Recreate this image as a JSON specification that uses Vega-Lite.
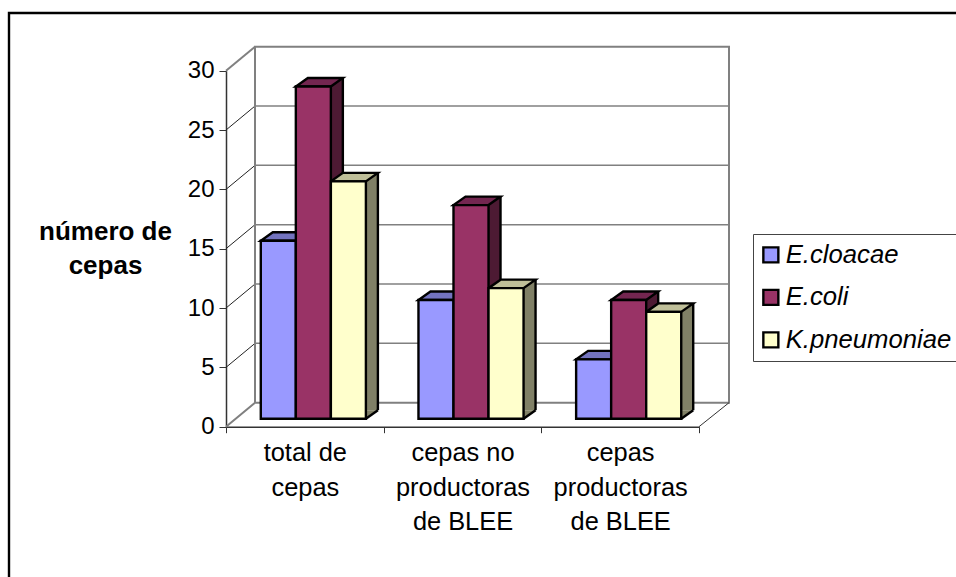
{
  "$schema": "https://vega.github.io/schema/vega-lite/v6.json",
  "autosize": "none",
  "width": 950,
  "height": 568,
  "padding": {"left": 9, "top": 13, "right": 0, "bottom": 0},
  "background": "white",
  "config": {
    "view": {"stroke": "black", "strokeWidth": 2.4, "fill": "white"},
    "font": "Liberation Sans"
  },
  "datasets": {
    "cepas": [
      {"categoria": "total de cepas", "especie": "E.cloacae", "valor": 15},
      {"categoria": "total de cepas", "especie": "E.coli", "valor": 28},
      {"categoria": "total de cepas", "especie": "K.pneumoniae", "valor": 20},
      {"categoria": "cepas no productoras de BLEE", "especie": "E.cloacae", "valor": 10},
      {"categoria": "cepas no productoras de BLEE", "especie": "E.coli", "valor": 18},
      {"categoria": "cepas no productoras de BLEE", "especie": "K.pneumoniae", "valor": 11},
      {"categoria": "cepas productoras de BLEE", "especie": "E.cloacae", "valor": 5},
      {"categoria": "cepas productoras de BLEE", "especie": "E.coli", "valor": 10},
      {"categoria": "cepas productoras de BLEE", "especie": "K.pneumoniae", "valor": 9}
    ],
    "niveles": [
      {"categoria": "total de cepas", "valor": 5},
      {"categoria": "total de cepas", "valor": 10},
      {"categoria": "total de cepas", "valor": 15},
      {"categoria": "total de cepas", "valor": 20},
      {"categoria": "total de cepas", "valor": 25}
    ],
    "suelo": [{"categoria": "total de cepas", "valor": 0}],
    "techo": [{"categoria": "total de cepas", "valor": 30}]
  },
  "encoding": {
    "x": {
      "field": "categoria",
      "type": "nominal",
      "scale": {
        "domain": ["total de cepas", "cepas no productoras de BLEE", "cepas productoras de BLEE"],
        "range": [217, 690],
        "paddingInner": 0,
        "paddingOuter": 0
      },
      "axis": {
        "title": null,
        "orient": "bottom",
        "offset": -154.3,
        "labelAngle": 0,
        "labelFontSize": 25.4,
        "labelColor": "black",
        "labelPadding": 8,
        "labelLineHeight": 34.5,
        "labelExpr": "datum.label == 'total de cepas' ? ['total de', 'cepas'] : datum.label == 'cepas no productoras de BLEE' ? ['cepas no', 'productoras', 'de BLEE'] : datum.label == 'cepas productoras de BLEE' ? ['cepas', 'productoras', 'de BLEE'] : ''",
        "labelLimit": 0,
        "tickBand": "extent",
        "tickSize": 6,
        "tickColor": "#333333",
        "domainColor": "#333333",
        "domainWidth": 1.5
      }
    },
    "y": {
      "field": "valor",
      "type": "quantitative",
      "scale": {"domain": [0, 30], "range": [413.7, 57.7], "nice": false},
      "axis": {
        "orient": "left",
        "offset": -217,
        "values": [0, 5, 10, 15, 20, 25, 30],
        "grid": false,
        "title": ["número de", "cepas"],
        "titleFontSize": 26,
        "titleFontWeight": "bold",
        "titleAngle": 0,
        "titleAlign": "center",
        "titleBaseline": "middle",
        "titleLineHeight": 34,
        "titleX": -121,
        "titleY": 218,
        "titleColor": "black",
        "labelFontSize": 24,
        "labelColor": "black",
        "labelPadding": 5,
        "tickSize": 7,
        "tickColor": "#333333",
        "domainColor": "#333333",
        "domainWidth": 1.5
      }
    }
  },
  "layer": [
    {
      "description": "Back wall grid lines",
      "data": {"name": "niveles"},
      "mark": {"type": "point", "shape": "M29,-24 L503,-24", "size": 4, "filled": false, "fill": null, "stroke": "#808080", "strokeWidth": 1.5, "opacity": 1},
      "encoding": {"x": {"field": "categoria", "type": "nominal", "bandPosition": 0}}
    },
    {
      "description": "Side wall lines joining the axis ticks to the back wall",
      "data": {"name": "niveles"},
      "mark": {"type": "point", "shape": "M0,0 L29,-24", "size": 4, "filled": false, "fill": null, "stroke": "#222222", "strokeWidth": 1, "opacity": 1},
      "encoding": {"x": {"field": "categoria", "type": "nominal", "bandPosition": 0}}
    },
    {
      "description": "Wall and floor outline, anchored at zero",
      "data": {"name": "suelo"},
      "mark": {"type": "point", "shape": "M0,0 L29,-24 L503,-24 L503,-380 L29,-380 L29,-24", "size": 4, "filled": false, "fill": null, "stroke": "#808080", "strokeWidth": 2, "opacity": 1},
      "encoding": {"x": {"field": "categoria", "type": "nominal", "bandPosition": 0}}
    },
    {
      "description": "Floor right edge",
      "data": {"name": "suelo"},
      "mark": {"type": "point", "shape": "M473,0 L503,-24", "size": 4, "filled": false, "fill": null, "stroke": "#333333", "strokeWidth": 1, "opacity": 1},
      "encoding": {"x": {"field": "categoria", "type": "nominal", "bandPosition": 0}}
    },
    {
      "description": "Side wall top edge",
      "data": {"name": "techo"},
      "mark": {"type": "point", "shape": "M0,0 L29,-24", "size": 4, "filled": false, "fill": null, "stroke": "#808080", "strokeWidth": 2, "opacity": 1},
      "encoding": {"x": {"field": "categoria", "type": "nominal", "bandPosition": 0}}
    },
    {
      "description": "Bar side faces",
      "data": {"name": "cepas"},
      "mark": {"type": "bar", "yOffset": -16.5, "y2Offset": -16.5},
      "encoding": {
        "xOffset": {"field": "especie", "type": "nominal", "scale": {"type": "band", "range": [46.8, 151.9], "paddingInner": 0, "paddingOuter": 0}},
        "fill": {"field": "especie", "type": "nominal", "legend": null, "scale": {"domain": ["E.cloacae", "E.coli", "K.pneumoniae"], "range": ["#4D4D80", "#4D1A33", "#808066"]}}
      }
    },
    {
      "description": "Lower corner of the side faces",
      "data": {"name": "cepas"},
      "mark": {"type": "point", "shape": "M26,-8 L38,-16.5 L26,-16.5 Z", "size": 4, "filled": true, "opacity": 1, "strokeWidth": 0},
      "encoding": {
        "y": {"datum": 0, "type": "quantitative"},
        "xOffset": {"field": "especie", "type": "nominal", "scale": {"type": "band", "range": [26.3, 131.4], "paddingInner": 0, "paddingOuter": 0}},
        "fill": {"field": "especie", "type": "nominal", "legend": null, "scale": {"domain": ["E.cloacae", "E.coli", "K.pneumoniae"], "range": ["#4D4D80", "#4D1A33", "#808066"]}}
      }
    },
    {
      "description": "Outer vertical edge of each side face",
      "data": {"name": "cepas"},
      "mark": {"type": "rule", "yOffset": -16.5, "y2Offset": -16.5, "stroke": "black", "strokeWidth": 2.4},
      "encoding": {
        "xOffset": {"field": "especie", "type": "nominal", "scale": {"type": "band", "range": [64.3, 169.4], "paddingInner": 0, "paddingOuter": 0}},
        "y2": {"datum": 0}
      }
    },
    {
      "description": "Lower slanted edge of each side face",
      "data": {"name": "cepas"},
      "mark": {"type": "point", "shape": "M26,-8 L38,-16.5", "size": 4, "filled": false, "fill": null, "stroke": "black", "strokeWidth": 2.4, "opacity": 1},
      "encoding": {
        "y": {"datum": 0, "type": "quantitative"},
        "xOffset": {"field": "especie", "type": "nominal", "scale": {"type": "band", "range": [26.3, 131.4], "paddingInner": 0, "paddingOuter": 0}}
      }
    },
    {
      "description": "Bar top faces",
      "data": {"name": "cepas"},
      "mark": {"type": "point", "shape": "M-9,-8 L26,-8 L38,-16.5 L3,-16.5 Z", "size": 4, "filled": true, "stroke": "black", "strokeWidth": 2.4, "opacity": 1},
      "encoding": {
        "xOffset": {"field": "especie", "type": "nominal", "scale": {"type": "band", "range": [26.3, 131.4], "paddingInner": 0, "paddingOuter": 0}},
        "fill": {"field": "especie", "type": "nominal", "legend": null, "scale": {"domain": ["E.cloacae", "E.coli", "K.pneumoniae"], "range": ["#7373BF", "#732650", "#BFBF99"]}}
      }
    },
    {
      "description": "Bar front faces",
      "data": {"name": "cepas"},
      "mark": {"type": "bar", "yOffset": -8, "y2Offset": -8, "stroke": "black", "strokeWidth": 2.4},
      "encoding": {
        "xOffset": {"field": "especie", "type": "nominal", "scale": {"type": "band", "range": [34.8, 139.9], "paddingInner": 0, "paddingOuter": 0}},
        "fill": {
          "field": "especie",
          "type": "nominal",
          "scale": {"domain": ["E.cloacae", "E.coli", "K.pneumoniae"], "range": ["#9999FF", "#993366", "#FFFFCC"]},
          "legend": {
            "title": null,
            "orient": "none",
            "legendX": 744,
            "legendY": 221,
            "padding": 8,
            "fillColor": "white",
            "strokeColor": "#444444",
            "symbolType": "square",
            "symbolSize": 225,
            "symbolStrokeColor": "black",
            "symbolStrokeWidth": 2.4,
            "symbolOffset": -3,
            "labelFontSize": 25.7,
            "labelFontStyle": "italic",
            "labelColor": "black",
            "labelOffset": 2,
            "rowPadding": 15.5,
            "labelLimit": 300
          }
        }
      }
    }
  ],
  "resolve": {"scale": {"fill": "independent", "xOffset": "independent"}}
}
